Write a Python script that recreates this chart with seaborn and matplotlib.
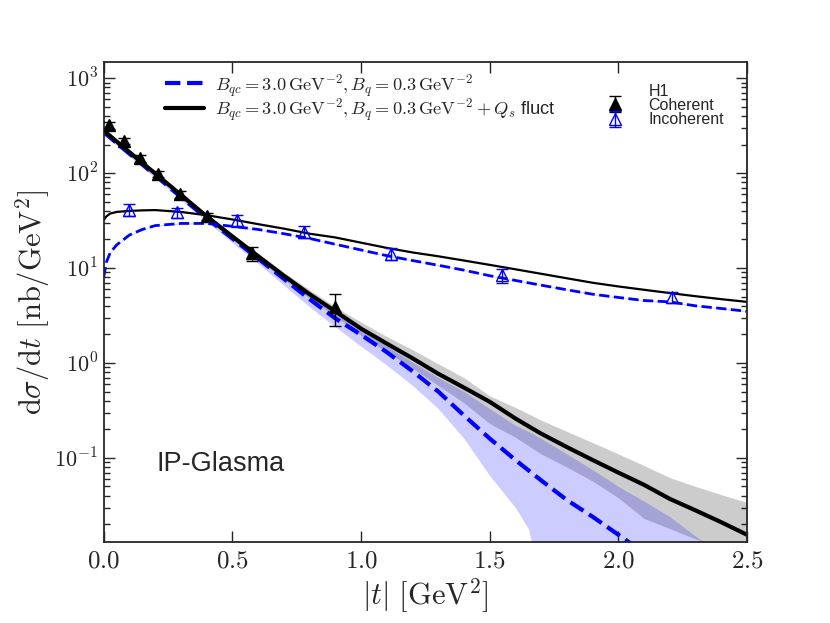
import math
import matplotlib
matplotlib.use('Agg')
import matplotlib.pyplot as plt
from matplotlib.ticker import FuncFormatter, LogLocator, FixedLocator, NullLocator
from matplotlib.lines import Line2D
import seaborn as sns

# model curves, |t| grid
t = [0.0, 0.1, 0.2, 0.3, 0.4, 0.5, 0.6, 0.7, 0.8, 0.9, 1.0, 1.1, 1.2,
     1.3, 1.4, 1.5, 1.6, 1.7, 1.8, 1.9, 2.0, 2.1, 2.2, 2.3, 2.4, 2.5]

# coherent, with Qs fluctuations (thick black) and its band
coh_fluct = [280, 166, 99, 59, 35, 21.5, 13.3, 8.3, 5.3, 3.5, 2.3, 1.6, 1.12,
             0.77, 0.55, 0.39, 0.26, 0.18, 0.13, 0.095, 0.07, 0.052, 0.037,
             0.028, 0.021, 0.0155]
coh_fluct_hi = [295, 175, 104, 62, 37, 23, 14.3, 9.0, 5.9, 3.9, 2.7, 1.9, 1.38,
                0.98, 0.7, 0.45, 0.34, 0.25, 0.19, 0.145, 0.11, 0.083, 0.062,
                0.05, 0.041, 0.034]
coh_fluct_lo = [265, 157, 94, 56, 33, 20, 12.3, 7.6, 4.8, 3.1, 1.95, 1.3, 0.88,
                0.58, 0.38, 0.23, 0.165, 0.11, 0.08, 0.057, 0.038, 0.023, 0.018,
                0.014, 0.011, 0.009]

# coherent, no fluctuations (thick blue dashed)
t_nofl = [0.0, 0.1, 0.2, 0.3, 0.4, 0.5, 0.6, 0.7, 0.8, 0.9, 1.0, 1.1, 1.2,
          1.3, 1.4, 1.5, 1.6, 1.7, 1.8, 1.9, 2.0, 2.1]
coh_nofl = [270, 160, 95, 56, 33.5, 20.5, 12.6, 7.7, 4.7, 2.95, 1.98, 1.3, 0.82,
            0.5, 0.28, 0.16, 0.095, 0.058, 0.036, 0.024, 0.0155, 0.01]

# its band
t_band = [0.0, 0.1, 0.2, 0.3, 0.4, 0.5, 0.6, 0.7, 0.8, 0.9, 1.0, 1.1, 1.2,
          1.3, 1.4, 1.5, 1.6, 1.65, 1.7, 1.8, 1.9, 2.0, 2.1, 2.2, 2.3, 2.4, 2.5]
coh_nofl_hi = [285, 168, 100, 59, 35, 21.5, 13.2, 8.2, 5.1, 3.3, 2.2, 1.5, 1.02,
               0.7, 0.5, 0.33, 0.22, 0.19, 0.16, 0.11, 0.075, 0.05, 0.035,
               0.024, 0.015, 0.0095, 0.006]
coh_nofl_lo = [255, 150, 89, 52, 31, 18.5, 11.2, 6.6, 3.9, 2.4, 1.5, 0.95,
               0.58, 0.33, 0.16, 0.065, 0.03, 0.018, 0.005, 0.001, 0.001,
               0.001, 0.001, 0.001, 0.001, 0.001, 0.001]

# incoherent curves
t_inc = [0.0, 0.01, 0.025, 0.05, 0.1, 0.15, 0.2, 0.3, 0.4, 0.5, 0.6, 0.7, 0.8,
         0.9, 1.0, 1.1, 1.2, 1.3, 1.4, 1.5, 1.6, 1.7, 1.8, 1.9, 2.0, 2.1, 2.2,
         2.3, 2.4, 2.5]
inc_fluct = [32, 35, 37.5, 39, 40, 40.5, 40.8, 39, 36, 32.5, 29, 26, 23, 21,
             18.5, 16.3, 14.6, 13.3, 12, 10.8, 9.7, 8.7, 7.8, 7.0, 6.4, 5.9,
             5.45, 5.05, 4.7, 4.4]
inc_nofl = [8.0, 11.5, 14.5, 17.5, 22.3, 25.5, 28, 29.5, 29.5, 27.5, 25.5, 23,
            20.5, 17.8, 15.5, 13.5, 12, 10.7, 9.5, 8.3, 7.4, 6.6, 5.9, 5.3,
            4.9, 4.55, 4.4, 4.0, 3.75, 3.5]

# H1 data
h1_coh_t = [0.021, 0.079, 0.14, 0.209, 0.296, 0.40, 0.578, 0.90]
h1_coh = [320, 219, 143, 98, 60, 35, 14.3, 3.9]
h1_coh_err = [25, 17, 11, 8, 5, 3, 2.3, 1.45]

h1_inc_t = [0.10, 0.286, 0.516, 0.778, 1.118, 1.549, 2.207]
h1_inc = [41, 38.6, 31.7, 24.2, 14.1, 8.35, 4.95]
h1_inc_err = [6, 4.7, 4.5, 3.5, 2.0, 1.35, 0.65]

sns.set_style('ticks')
plt.rcParams['font.family'] = ['Liberation Sans', 'DejaVu Sans']
plt.rcParams['mathtext.fontset'] = 'cm'

fig, ax = plt.subplots(figsize=(8.3, 6.23), dpi=100)
fig.subplots_adjust(left=0.125, right=0.9, top=0.9, bottom=0.13)

ax.fill_between(t, coh_fluct_lo, coh_fluct_hi, color='k', alpha=0.2, lw=0)
ax.fill_between(t_band, coh_nofl_lo, coh_nofl_hi, color='b', alpha=0.2, lw=0)
ax.fill_between(t_inc, [v * 0.985 for v in inc_nofl], [v * 1.015 for v in inc_nofl],
                color='b', alpha=0.15, lw=0)

sns.lineplot(x=t_nofl, y=coh_nofl, ax=ax, color='b', lw=3)
ax.lines[-1].set_linestyle('--')
sns.lineplot(x=t, y=coh_fluct, ax=ax, color='k', lw=3)
sns.lineplot(x=t_inc, y=inc_nofl, ax=ax, color='b', lw=2)
ax.lines[-1].set_linestyle('--')
sns.lineplot(x=t_inc, y=inc_fluct, ax=ax, color='k', lw=1.6)

eb_coh = ax.errorbar(h1_coh_t, h1_coh, yerr=h1_coh_err, fmt='^', color='k',
                     ms=8, capsize=4, elinewidth=1, zorder=5)
eb_inc = ax.errorbar(h1_inc_t, h1_inc, yerr=h1_inc_err, fmt='^', color='b',
                     mfc='none', mec='b', ms=8, capsize=4, elinewidth=1, zorder=5)

ax.set_yscale('log')
ax.set_xlim(0, 2.5)
ax.set_ylim(0.013, 1470)

ax.xaxis.set_major_locator(FixedLocator([0.0, 0.5, 1.0, 1.5, 2.0, 2.5]))
ax.xaxis.set_minor_locator(NullLocator())
ax.xaxis.set_major_formatter(FuncFormatter(lambda v, p: r'$%.1f$' % v))
ax.yaxis.set_major_locator(LogLocator(base=10, numticks=10))
ax.yaxis.set_minor_locator(LogLocator(base=10, subs=range(2, 10), numticks=20))
ax.yaxis.set_major_formatter(FuncFormatter(lambda v, p: r'$10^{%d}$' % round(math.log10(v))))
ax.tick_params(which='both', direction='in', top=True, right=True, width=1)
ax.tick_params(which='major', length=8)
ax.tick_params(which='minor', length=4)
ax.tick_params(axis='x', labelsize=18, pad=5)
ax.tick_params(axis='y', labelsize=16, pad=4)
for s in ax.spines.values():
    s.set_linewidth(1.3)

ax.set_xlabel(r'$|t|\ [\mathrm{GeV}^2]$', fontsize=22, labelpad=2)
ax.set_ylabel(r'$\mathrm{d}\sigma/\mathrm{d}t\ [\mathrm{nb}/\mathrm{GeV}^2]$', fontsize=22,
              labelpad=2)

ax.text(0.205, 0.072, 'IP-Glasma', fontsize=19.5)

h_a = Line2D([], [], color='b', lw=3, ls='--')
h_b = Line2D([], [], color='k', lw=3)
leg1 = ax.legend([h_a, h_b],
                 [r'$B_{qc}=3.0\,\mathrm{GeV}^{-2}, B_q=0.3\,\mathrm{GeV}^{-2}$',
                  r'$B_{qc}=3.0\,\mathrm{GeV}^{-2}, B_q=0.3\,\mathrm{GeV}^{-2}+Q_s$ fluct'],
                 loc='upper left', bbox_to_anchor=(0.07, 1.015), frameon=False,
                 fontsize=13.2, handlelength=2.1, labelspacing=-0.12, handletextpad=0.6)
ax.add_artist(leg1)
blank = Line2D([], [], ls='none')
ax.legend([blank, eb_coh, eb_inc], ['H1', 'Coherent', 'Incoherent'],
          loc='upper left', bbox_to_anchor=(0.76, 0.985), frameon=False,
          fontsize=11.5, handlelength=1.0, labelspacing=-0.05, handletextpad=1.6,
          numpoints=1)

sns.despine(ax=ax, top=False, right=False)
fig.savefig('out.png', dpi=100)
